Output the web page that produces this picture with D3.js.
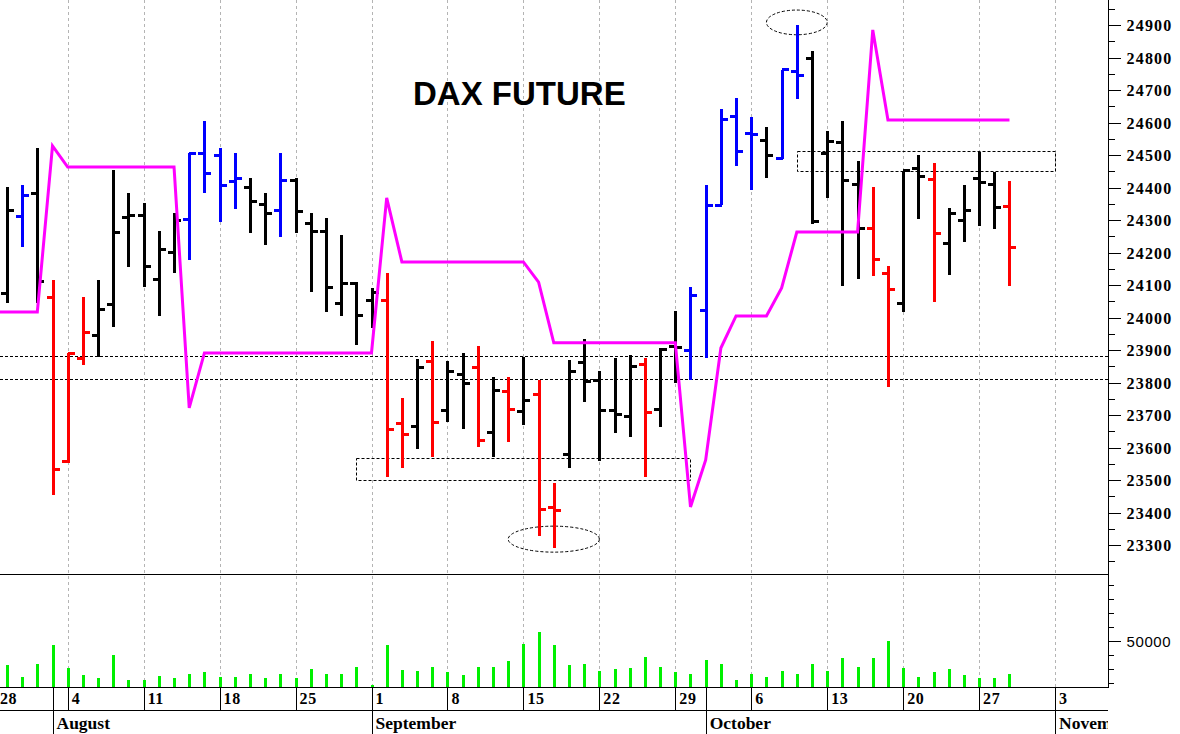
<!DOCTYPE html>
<html><head><meta charset="utf-8">
<script src="https://cdn.jsdelivr.net/npm/d3@7"></script>
<style>html,body{margin:0;padding:0;background:#fff;} svg{display:block;}</style>
</head><body><svg id="chart" width="1180" height="734"></svg>
<script>
// ---------------- DATA ----------------
const barDates = [
"2025-07-29","2025-07-30","2025-07-31","2025-08-01",
"2025-08-04","2025-08-05","2025-08-06","2025-08-07","2025-08-08",
"2025-08-11","2025-08-12","2025-08-13","2025-08-14","2025-08-15",
"2025-08-18","2025-08-19","2025-08-20","2025-08-21","2025-08-22",
"2025-08-25","2025-08-26","2025-08-27","2025-08-28","2025-08-29",
"2025-09-01","2025-09-02","2025-09-03","2025-09-04","2025-09-05",
"2025-09-08","2025-09-09","2025-09-10","2025-09-11","2025-09-12",
"2025-09-15","2025-09-16","2025-09-17","2025-09-18","2025-09-19",
"2025-09-22","2025-09-23","2025-09-24","2025-09-25","2025-09-26",
"2025-09-29","2025-09-30","2025-10-01","2025-10-02","2025-10-03",
"2025-10-06","2025-10-07","2025-10-08","2025-10-09","2025-10-10",
"2025-10-13","2025-10-14","2025-10-15","2025-10-16","2025-10-17",
"2025-10-20","2025-10-21","2025-10-22","2025-10-23","2025-10-24",
"2025-10-27","2025-10-28","2025-10-29"];

const openP = [
24074,24310,24382,24061,
23558,23874,23946,24041,24308,
24315,24118,24201,24302,24505,
24500,24418,24400,24348,24329,
24423,24290,24264,24042,24105,
24052,24052,23674,23664,23864,
23713,23825,23847,23646,23772,
23712,23763,23416,23580,23861,
23805,23715,23695,23854,23717,
23911,23900,24023,24346,24620,
24567,24546,24490,24756,24797,
24505,24538,24408,24274,24136,
24044,24459,24426,24228,24300,
24428,24408,24343];

const highP = [
24402,24408,24521,24115,
23892,24064,24115,24454,24382,
24353,24267,24321,24505,24606,
24523,24505,24430,24384,24505,
24428,24321,24305,24254,24110,
24090,24138,23751,23871,23929,
23866,23892,23912,23818,23818,
23880,23808,23492,23869,23933,
23835,23874,23885,23874,23905,
24020,24095,24408,24641,24676,
24618,24587,24762,24900,24821,
24574,24606,24482,24402,24159,
24452,24500,24474,24336,24408,
24510,24449,24421];

const lowP = [
24045,24216,24044,23454,
23552,23854,23877,23970,24154,
24093,24006,24136,24177,24382,
24293,24334,24261,24223,24249,
24261,24079,24018,24005,23915,
23967,23510,23536,23594,23572,
23680,23657,23602,23572,23618,
23669,23327,23292,23538,23741,
23559,23644,23633,23510,23664,
23797,23808,23875,24346,24467,
24392,24430,24487,24671,24288,
24369,24097,24118,24128,23785,
24018,24302,24049,24131,24231,
24282,24271,24097];

const closeP = [
24328,24375,24110,23531,
23890,23953,24025,24262,24315,
24156,24208,24300,24505,24442,
24406,24428,24358,24321,24421,
24326,24264,24092,24105,24005,
24077,23654,23641,23847,23676,
23835,23797,23621,23774,23717,
23744,23408,23406,23835,23802,
23715,23702,23849,23707,23902,
23908,24069,24346,24608,24510,
24564,24500,24762,24746,24295,
24541,24423,24274,24180,24087,
24452,24435,24257,24321,24329,
24415,24339,24215];

// bar signal: n = neutral, u = up impulse, d = down impulse
const impulse = [
"n","u","n","d",
"d","d","n","n","n",
"n","n","n","u","u",
"u","u","n","n","u",
"n","n","n","n","n",
"n","d","d","n","d",
"n","n","d","n","d",
"n","d","d","n","n",
"n","n","n","d","n",
"n","u","u","u","u",
"u","n","u","u","n",
"n","n","n","d","d",
"n","n","d","n","n",
"n","n","d"];

const volume = [
32600,24300,33600,46900,
30700,25500,23600,39800,22400,
22400,25200,23600,26400,27600,
24300,24300,26400,23600,26400,
23400,29800,26400,26400,31400,
18400,46900,29500,28800,31400,
27600,25700,31400,31400,35900,
48100,56400,46900,32600,33700,
28900,30000,30700,38600,31400,
27600,26400,36600,33800,22400,
26400,24300,28800,26400,33600,
28800,37900,31400,37900,50200,
30700,24300,27600,30000,25500,
23600,23600,26400];

const stopDates = ["2025-07-28"].concat(barDates);
const stopLine = [
24017,24017,24017,24017,24528,
24463,24463,24463,24463,24463,
24463,24463,24463,23722,23891,
23891,23891,23891,23891,23891,
23891,23891,23891,23891,23891,
23891,24368,24171,24171,24171,
24171,24171,24171,24171,24171,
24171,24109,23922,23922,23922,
23922,23922,23922,23922,23922,
23922,23417,23562,23906,24005,
24005,24005,24091,24263,24263,
24263,24263,24263,24885,24608,
24608,24608,24608,24608,24608,
24608,24608,24608];

const priceTicks = [23300,23400,23500,23600,23700,23800,23900,24000,24100,24200,24300,24400,24500,24600,24700,24800,24900];
const priceMinorTicks = [23250,23350,23450,23550,23650,23750,23850,23950,24050,24150,24250,24350,24450,24550,24650,24750,24850,24950];
const volumeTicks = [20000,30000,40000,60000,70000,80000,90000];
const volumeLabelTicks = [50000];

const weekStarts = ["2025-07-28","2025-08-04","2025-08-11","2025-08-18","2025-08-25","2025-09-01","2025-09-08","2025-09-15","2025-09-22","2025-09-29","2025-10-06","2025-10-13","2025-10-20","2025-10-27","2025-11-03"];
const weekLabels = ["28","4","11","18","25","1","8","15","22","29","6","13","20","27","3"];
const monthStarts = ["2025-08-01","2025-09-01","2025-10-01","2025-11-03"];
const monthLabels = ["August","September","October","November"];

const levelLines = [23882, 23811];
const boxes = [
  {from:"2025-08-29", to:"2025-09-30", hi:23567, lo:23500},
  {from:"2025-10-09", to:"2025-11-03", hi:24511, lo:24451}
];
const ovals = [
  {at:"2025-10-09", price:24908, days:2, spread:38},
  {at:"2025-09-17", price:23318, days:3, spread:40}
];

// ---------------- LAYOUT ----------------
const W = 1180, H = 734;
const plotRight = 1108, priceBottom = 574, volBottom = 687, dayRowBottom = 710;
const fmt = d3.utcFormat("%Y-%m-%d");
const allDays = d3.utcDay.range(new Date(Date.UTC(2025,6,28)), new Date(Date.UTC(2025,10,8)))
  .filter(d => d.getUTCDay() !== 0 && d.getUTCDay() !== 6).map(fmt);
const dayStep = 15.19;
const x = d3.scalePoint().domain(allDays).range([-8.25, -8.25 + (allDays.length - 1) * dayStep]);
const y = d3.scaleLinear().domain([23300, 24900]).range([545, 25]);
const yv = d3.scaleLinear().domain([0, 100000]).range([711, 571]);
const colors = {n:"#000000", u:"#0000ff", d:"#ff0000"};

const svg = d3.select("#chart");
svg.append("rect").attr("width", W).attr("height", H).attr("fill", "#fff");
const defs = svg.append("defs");
defs.append("clipPath").attr("id","cp").append("rect").attr("x",0).attr("y",0).attr("width",plotRight).attr("height",priceBottom);
defs.append("clipPath").attr("id","cv").append("rect").attr("x",0).attr("y",priceBottom).attr("width",plotRight).attr("height",volBottom-priceBottom);
defs.append("clipPath").attr("id","cx").append("rect").attr("x",0).attr("y",volBottom).attr("width",plotRight).attr("height",H-volBottom);

// gridlines
svg.append("g").selectAll("line").data(weekStarts).join("line")
  .attr("x1", d => Math.round(x(d)) + 0.5).attr("x2", d => Math.round(x(d)) + 0.5)
  .attr("y1", 0).attr("y2", volBottom)
  .attr("stroke", "#b4b4b4").attr("stroke-width", 1).attr("stroke-dasharray", "3,3");

const gp = svg.append("g").attr("clip-path", "url(#cp)");

// title
svg.append("text").attr("x", 413).attr("y", 105)
  .attr("font-family", "'Liberation Sans', Arial, sans-serif").attr("font-weight", "bold")
  .attr("font-size", 33).attr("fill", "#000").text("DAX FUTURE");

// annotation lines
gp.append("g").selectAll("line").data(levelLines).join("line")
  .attr("x1", 0).attr("x2", plotRight)
  .attr("y1", d => Math.round(y(d)) + 0.5).attr("y2", d => Math.round(y(d)) + 0.5)
  .attr("stroke", "#000").attr("stroke-width", 1).attr("stroke-dasharray", "3,2");
gp.append("g").selectAll("rect").data(boxes).join("rect")
  .attr("x", d => Math.round(x(d.from)) + 0.5)
  .attr("y", d => Math.round(y(d.hi)) + 0.5)
  .attr("width", d => Math.round(x(d.to) - x(d.from)))
  .attr("height", d => Math.round(y(d.lo) - y(d.hi)))
  .attr("fill", "none").attr("stroke", "#000").attr("stroke-width", 1).attr("stroke-dasharray", "3,2");
gp.append("g").selectAll("ellipse").data(ovals).join("ellipse")
  .attr("cx", d => x(d.at)).attr("cy", d => y(d.price))
  .attr("rx", d => d.days * dayStep).attr("ry", d => y(d.price - d.spread) - y(d.price))
  .attr("fill", "none").attr("stroke", "#000").attr("stroke-width", 1).attr("stroke-dasharray", "3,2");

// OHLC bars
const bars = barDates.map((d, i) => ({d, o: openP[i], h: highP[i], l: lowP[i], c: closeP[i], k: impulse[i]}));
const gb = gp.append("g").attr("shape-rendering", "crispEdges");
gb.selectAll("line.hl").data(bars).join("line").attr("class","hl")
  .attr("x1", b => Math.round(x(b.d)) + 0.5).attr("x2", b => Math.round(x(b.d)) + 0.5)
  .attr("y1", b => y(b.h)).attr("y2", b => y(b.l))
  .attr("stroke", b => colors[b.k]).attr("stroke-width", 3);
gb.selectAll("line.op").data(bars).join("line").attr("class","op")
  .attr("x1", b => Math.round(x(b.d)) - 6).attr("x2", b => Math.round(x(b.d)) + 1)
  .attr("y1", b => y(b.o)).attr("y2", b => y(b.o))
  .attr("stroke", b => colors[b.k]).attr("stroke-width", 3);
gb.selectAll("line.cl").data(bars).join("line").attr("class","cl")
  .attr("x1", b => Math.round(x(b.d))).attr("x2", b => Math.round(x(b.d)) + 7)
  .attr("y1", b => y(b.c)).attr("y2", b => y(b.c))
  .attr("stroke", b => colors[b.k]).attr("stroke-width", 3);

// magenta stop line
gp.append("path").datum(stopDates.map((d, i) => [d, stopLine[i]]))
  .attr("d", d3.line().x(p => x(p[0])).y(p => y(p[1])))
  .attr("fill", "none").attr("stroke", "#ff00ff").attr("stroke-width", 3).attr("stroke-linejoin", "miter");

// volume
svg.append("g").attr("clip-path", "url(#cv)").attr("shape-rendering", "crispEdges")
  .selectAll("rect").data(barDates.map((d, i) => ({d, v: volume[i]}))).join("rect")
  .attr("x", b => Math.round(x(b.d)) - 1).attr("width", 3)
  .attr("y", b => yv(b.v)).attr("height", b => volBottom - yv(b.v))
  .attr("fill", "#00f000");

// frame lines
const frame = svg.append("g").attr("stroke", "#000").attr("stroke-width", 1).attr("shape-rendering", "crispEdges");
frame.append("line").attr("x1", 0).attr("x2", plotRight).attr("y1", priceBottom + 0.5).attr("y2", priceBottom + 0.5);
frame.append("line").attr("x1", 0).attr("x2", plotRight).attr("y1", volBottom + 0.5).attr("y2", volBottom + 0.5);
frame.append("line").attr("x1", 0).attr("x2", plotRight).attr("y1", dayRowBottom + 0.5).attr("y2", dayRowBottom + 0.5);
frame.append("line").attr("x1", plotRight + 0.5).attr("x2", plotRight + 0.5).attr("y1", 0).attr("y2", volBottom + 1);

// right price axis
const serif = "'Liberation Serif', 'Times New Roman', serif";
const axP = svg.append("g").attr("transform", `translate(${plotRight + 0.5},0)`)
  .call(d3.axisRight(y).tickValues(priceTicks).tickSize(12).tickPadding(6).tickFormat(d3.format("d")));
const axPm = svg.append("g").attr("transform", `translate(${plotRight + 0.5},0)`)
  .call(d3.axisRight(y).tickValues(priceMinorTicks.filter(v => y(v) > 0 && y(v) < priceBottom)).tickSize(6).tickFormat(""));
const axV = svg.append("g").attr("transform", `translate(${plotRight + 0.5},0)`)
  .call(d3.axisRight(yv).tickValues(volumeTicks).tickSize(5).tickFormat(""));
const axVl = svg.append("g").attr("transform", `translate(${plotRight + 0.5},0)`)
  .call(d3.axisRight(yv).tickValues(volumeLabelTicks).tickSize(12).tickPadding(6).tickFormat(d3.format("d")));
[axP, axPm, axV, axVl].forEach(g => {
  g.select(".domain").remove();
  g.selectAll(".tick line").attr("stroke", "#000").attr("shape-rendering", "crispEdges");
});
axP.selectAll("text").attr("font-family", serif).attr("font-weight", "bold").attr("font-size", 16)
  .attr("letter-spacing", "1.2px").attr("fill", "#000").attr("dy", "0.36em");
axVl.selectAll("text").attr("font-family", "'Liberation Sans', Arial, sans-serif").attr("font-size", 15)
  .attr("letter-spacing", "0.6px").attr("fill", "#000").attr("dy", "0.36em");

// x axis rows
const gx = svg.append("g").attr("clip-path", "url(#cx)");
gx.append("g").attr("stroke", "#000").attr("shape-rendering", "crispEdges")
  .selectAll("line").data(weekStarts).join("line")
  .attr("x1", d => Math.round(x(d)) + 0.5).attr("x2", d => Math.round(x(d)) + 0.5)
  .attr("y1", volBottom).attr("y2", dayRowBottom);
gx.append("g").attr("stroke", "#000").attr("shape-rendering", "crispEdges")
  .selectAll("line").data(monthStarts).join("line")
  .attr("x1", d => Math.round(x(d)) + 0.5).attr("x2", d => Math.round(x(d)) + 0.5)
  .attr("y1", volBottom).attr("y2", H);
gx.append("g").selectAll("text").data(weekStarts).join("text")
  .attr("x", d => Math.max(0, x(d) + 4)).attr("y", 704)
  .attr("font-family", serif).attr("font-weight", "bold").attr("font-size", 16).attr("letter-spacing", "0.6px")
  .attr("fill", "#000").text((d, i) => weekLabels[i]);
gx.append("g").selectAll("text").data(monthStarts).join("text")
  .attr("x", d => x(d) + 4).attr("y", 729)
  .attr("font-family", serif).attr("font-weight", "bold").attr("font-size", 17.5)
  .attr("fill", "#000").text((d, i) => monthLabels[i]);
</script>
</body></html>
